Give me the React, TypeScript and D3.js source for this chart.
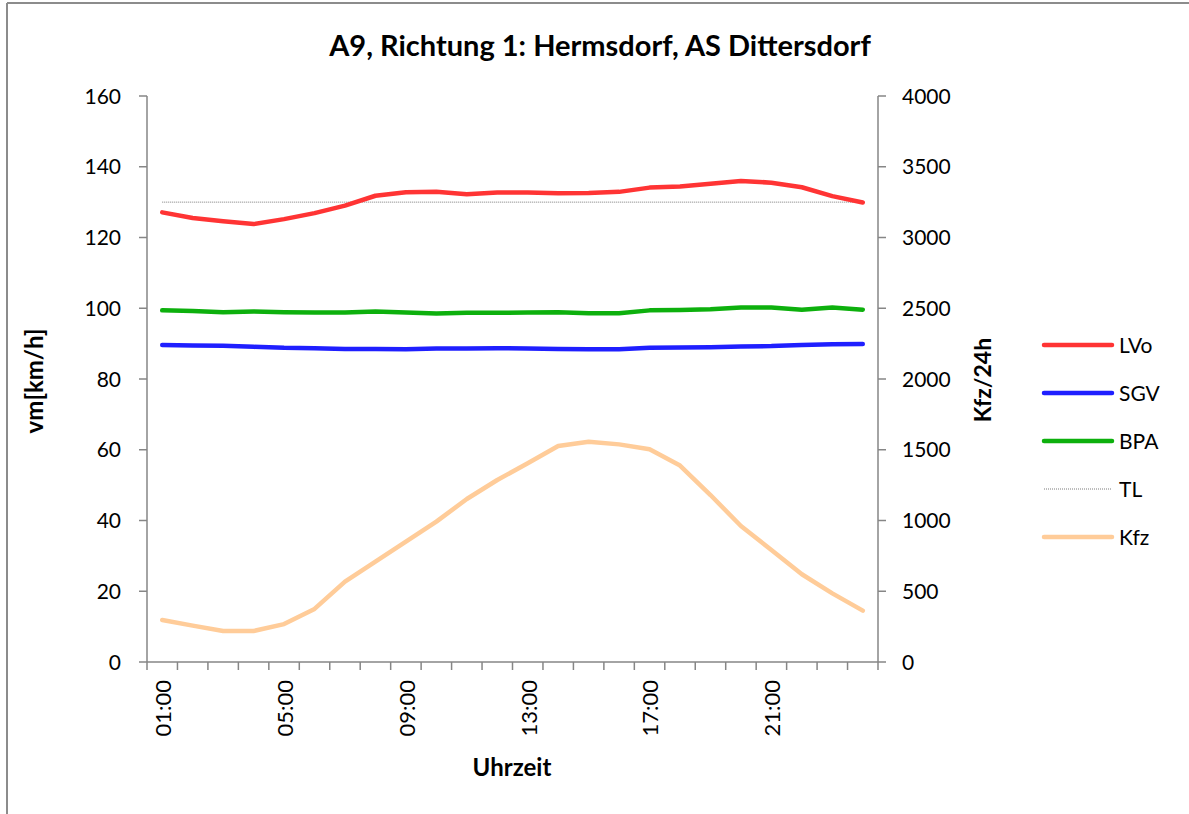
import React from "react";
import * as d3 from "d3";

const hours = ["01:00","02:00","03:00","04:00","05:00","06:00","07:00","08:00","09:00","10:00","11:00","12:00","13:00","14:00","15:00","16:00","17:00","18:00","19:00","20:00","21:00","22:00","23:00","24:00"];
const shownHours = ["01:00","05:00","09:00","13:00","17:00","21:00"];
const lvo = [127.1,125.5,124.6,123.8,125.2,126.9,129.0,131.8,132.8,132.9,132.2,132.7,132.7,132.5,132.6,132.9,134.1,134.4,135.2,136.0,135.5,134.2,131.7,129.9];
const sgv = [89.6,89.5,89.4,89.1,88.8,88.7,88.5,88.5,88.4,88.6,88.6,88.7,88.6,88.5,88.4,88.4,88.8,88.9,89.0,89.2,89.3,89.6,89.8,89.9];
const bpa = [99.4,99.2,98.9,99.1,98.9,98.8,98.8,99.1,98.8,98.5,98.7,98.7,98.8,98.9,98.6,98.6,99.4,99.5,99.7,100.2,100.2,99.6,100.2,99.6];
const tl = hours.map(() => 130);
const kfz = [297,257,219,219,268,375,568,709,850,992,1152,1286,1404,1526,1557,1538,1503,1388,1180,961,792,620,485,363];
const leftTicks = [0,20,40,60,80,100,120,140,160];
const rightTicks = [0,500,1000,1500,2000,2500,3000,3500,4000];

const FONT = "Lato, 'Open Sans', sans-serif";
const AXIS = "#868686";

export default function App() {
  const L = 147, R = 878, T = 96, B = 662;
  const x = d3.scaleBand().domain(hours).range([L, R]);
  const yL = d3.scaleLinear().domain([0, 160]).range([B, T]);
  const yR = d3.scaleLinear().domain([0, 4000]).range([B, T]);
  const cx = (h: string) => (x(h) as number) + x.bandwidth() / 2;
  const lineL = d3.line<number>().x((_, i) => cx(hours[i])).y((d) => yL(d));
  const lineR = d3.line<number>().x((_, i) => cx(hours[i])).y((d) => yR(d));

  const series = [
    { name: "LVo", color: "#FF3434", w: 4.5, dash: undefined as string | undefined, d: lineL(lvo) },
    { name: "SGV", color: "#1F1FFF", w: 4.5, dash: undefined, d: lineL(sgv) },
    { name: "BPA", color: "#0DB00D", w: 4.5, dash: undefined, d: lineL(bpa) },
    { name: "TL", color: "#7a7a7a", w: 1, dash: "1,1", d: lineL(tl) },
    { name: "Kfz", color: "#FFCC99", w: 4.5, dash: undefined, d: lineR(kfz) },
  ];
  const drawOrder = ["TL", "Kfz", "SGV", "BPA", "LVo"];
  const tickEdges = hours.map((h) => x(h) as number).concat([R]);

  return (
    <svg width={1189} height={814} style={{ position: "absolute", left: 0, top: 0, background: "#fff" }} fontFamily={FONT}>
      <rect x={0} y={0} width={1189} height={814} fill="#fff" />
      {/* outer frame */}
      <line x1={7} y1={3} x2={1189} y2={3} stroke="#8c8c8c" strokeWidth={2} />
      <line x1={7} y1={3} x2={7} y2={814} stroke="#8c8c8c" strokeWidth={2} />
      <text x={1000} y={-3} fontSize={20} fill="#000">(</text>
      <text x={1176} y={-3} fontSize={20} fill="#000">)</text>

      {/* title */}
      <text x={600} y={56} textAnchor="middle" fontSize={29} fontWeight="bold" fill="#000">A9, Richtung 1: Hermsdorf, AS Dittersdorf</text>

      {/* axes */}
      <line x1={L} y1={T} x2={L} y2={B} stroke={AXIS} strokeWidth={1.5} />
      <line x1={R} y1={T} x2={R} y2={B} stroke={AXIS} strokeWidth={1.5} />
      <line x1={L} y1={B} x2={R} y2={B} stroke={AXIS} strokeWidth={1.5} />
      {leftTicks.map((t) => (
        <g key={"l" + t}>
          <line x1={L - 8} x2={L} y1={yL(t)} y2={yL(t)} stroke={AXIS} strokeWidth={1.5} />
          <text x={L - 26} y={yL(t)} dy="0.36em" textAnchor="end" fontSize={21} fill="#000">{t}</text>
        </g>
      ))}
      {rightTicks.map((t) => (
        <g key={"r" + t}>
          <line x1={R} x2={R + 8} y1={yR(t)} y2={yR(t)} stroke={AXIS} strokeWidth={1.5} />
          <text x={R + 24} y={yR(t)} dy="0.36em" textAnchor="start" fontSize={21} fill="#000">{t}</text>
        </g>
      ))}
      {tickEdges.map((e, i) => (
        <line key={"x" + i} x1={e} x2={e} y1={B} y2={B + 8} stroke={AXIS} strokeWidth={1.5} />
      ))}
      {shownHours.map((h) => (
        <text key={h} transform={`translate(${cx(h) + 1},${B + 18}) rotate(-90)`} textAnchor="end" dy="0.36em" fontSize={22} fill="#000">{h}</text>
      ))}

      {/* axis titles */}
      <text transform={`translate(34,381) rotate(-90)`} textAnchor="middle" dy="0.36em" fontSize={24} fontWeight="bold" fill="#000">vm[km/h]</text>
      <text transform={`translate(983,380) rotate(-90)`} textAnchor="middle" dy="0.36em" fontSize={23} fontWeight="bold" fill="#000">Kfz/24h</text>
      <text x={512} y={776} textAnchor="middle" fontSize={24} fontWeight="bold" fill="#000">Uhrzeit</text>

      {/* series */}
      {drawOrder.map((n) => {
        const s = series.find((q) => q.name === n)!;
        return (
          <path key={n} d={s.d || ""} fill="none" stroke={s.color} strokeWidth={s.w} strokeDasharray={s.dash} strokeLinejoin="round" strokeLinecap={s.dash ? "butt" : "round"} />
        );
      })}

      {/* legend */}
      {series.map((s, i) => {
        const ly = 345 + i * 48;
        return (
          <g key={"lg" + s.name}>
            <line x1={1044} x2={1112} y1={ly} y2={ly} stroke={s.color} strokeWidth={s.w} strokeDasharray={s.dash} strokeLinecap={s.dash ? "butt" : "round"} />
            <text x={1119} y={ly} dy="0.36em" fontSize={21} fill="#000">{s.name}</text>
          </g>
        );
      })}
    </svg>
  );
}
